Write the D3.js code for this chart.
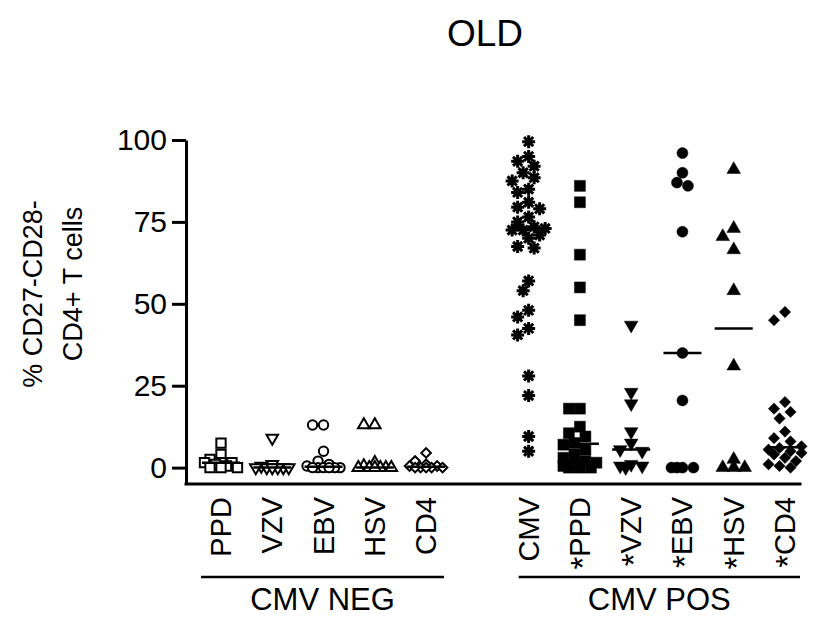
<!DOCTYPE html>
<html>
<head>
<meta charset="utf-8">
<script src="https://cdn.jsdelivr.net/npm/d3@7"></script>
<style>
  body { margin: 0; background: #fff; }
  text { font-family: "Liberation Sans", Arial, sans-serif; fill: #000; }
</style>
</head>
<body>
<script>
// categories
var negCats = ["PPD", "VZV", "EBV", "HSV", "CD4"];
var posCats = ["CMV", "PPD", "VZV", "EBV", "HSV", "CD4"];
var posLabels = ["CMV", "*PPD", "*VZV", "*EBV", "*HSV", "*CD4"];
var yTicks = [0, 25, 50, 75, 100];

// values (% CD27-CD28- CD4+ T cells)
var negPPD = [7.5, 4, 2.5, 1.5, 1.5, 1.5, 1, 0.5, 0, 0, 0];
var negVZV = [9, 1, 0.5, 0, 0, 0, 0, 0, 0];
var negEBV = [13, 13, 5, 2, 1, 0.5, 0, 0, 0, 0, 0, 0];
var negHSV = [13, 13, 1.5, 0.5, 0, 0, 0, 0, 0, 0];
var negCD4 = [4.5, 2, 1, 0.5, 0.5, 0, 0, 0, 0, 0];

var posCMV = [99.5, 95, 93.5, 92, 90, 88.5, 87.5, 85, 84, 81, 79.5, 79, 76.5, 75, 73.5, 73,
              72.5, 72.5, 71, 70, 67.5, 67, 57, 54, 48, 46, 42.5, 40.5, 28, 22, 9.5, 5];
var posPPD = [86, 81, 65, 55, 45, 18, 18, 12.5, 10.5, 9.5, 7.5, 7, 5.5, 4, 3, 2, 1.5, 1, 0.5, 0, 0, 0];
var posVZV = [43.5, 23, 19.5, 11, 7.5, 5.5, 5, 1, 0.5, 0.5, 0];
var posEBV = [96, 90, 87, 86, 72, 35, 20.5, 0, 0, 0, 0];
var posHSV = [91, 73, 70.5, 66.5, 54, 31, 2.5, 0, 0, 0];
var posCD4 = [47.5, 45, 20, 18, 17, 15, 11, 9, 8, 6.5, 6, 5.5, 5, 4.5, 4, 3, 2, 1, 0.5, 0];

var negSeries = [negPPD, negVZV, negEBV, negHSV, negCD4];
var posSeries = [posCMV, posPPD, posVZV, posEBV, posHSV, posCD4];

var width = 814, height = 618;

var svg = d3.select("body").append("svg")
  .attr("width", width)
  .attr("height", height);

// slots: neg columns 0..4, gap, pos columns 6..11
var x = d3.scaleLinear().domain([0, 11]).range([221, 785]);
var y = d3.scaleLinear().domain([-5, 100]).range([484, 140]);
var axisX = 186;

// groups with their marker style
var groups = [];
negCats.forEach(function(c, i) {
  groups.push({ slot: i, values: negSeries[i], shape: ["square", "down", "circle", "up", "diamond"][i], filled: false });
});
posCats.forEach(function(c, i) {
  groups.push({ slot: 6 + i, values: posSeries[i], shape: ["star", "square", "down", "circle", "up", "diamond"][i], filled: true });
});

function shapePath(shape, filled) {
  var s = filled ? 1 : 0.85;
  if (shape == "square") return d3.symbol(d3.symbolSquare, 120 * s * s)();
  if (shape == "circle") return d3.symbol(d3.symbolCircle, 95 * s * s)();
  if (shape == "up" || shape == "down") return d3.symbol(d3.symbolTriangle, 80 * s * s)();
  if (shape == "diamond") return d3.symbol(d3.symbolSquare, 64 * s * s)();
  // asterisk: 8 spokes
  var r = 6.5, p = "";
  for (var k = 0; k < 4; k++) {
    var a = k * Math.PI / 4;
    p += "M" + (-r * Math.cos(a)) + "," + (-r * Math.sin(a)) + "L" + (r * Math.cos(a)) + "," + (r * Math.sin(a));
  }
  return p;
}

function shapeRotate(shape) {
  if (shape == "down") return " rotate(180)";
  if (shape == "diamond") return " rotate(45)";
  return "";
}

// simple column-scatter layout, similar to how Prism spreads close points
function spread(values, cx) {
  var size = 11, maxOff = 19;
  var offs = [0];
  for (var k = 1; k * size / 2 <= maxOff; k++) { offs.push(-k * size / 2); offs.push(k * size / 2); }
  var placed = [];
  values.slice().sort(function(a, b) { return b - a; }).forEach(function(v) {
    var py = y(v), best = null, bestD = -1;
    for (var j = 0; j < offs.length; j++) {
      var px = cx + offs[j];
      var minD = Infinity;
      placed.forEach(function(q) {
        var d = Math.hypot(q.x - px, q.y - py);
        if (d < minD) minD = d;
      });
      if (minD >= size) { best = px; break; }
      if (minD > bestD) { bestD = minD; best = px; }
    }
    placed.push({ x: best, y: py, v: v });
  });
  return placed;
}

// points and medians
groups.forEach(function(g) {
  var cx = x(g.slot);
  var pts = spread(g.values, cx);
  var gg = svg.append("g");
  gg.selectAll("path.pt")
    .data(pts)
    .enter().append("path")
    .attr("class", "pt")
    .attr("d", shapePath(g.shape, g.filled))
    .attr("transform", function(d) { return "translate(" + d.x + "," + d.y + ")" + shapeRotate(g.shape); })
    .attr("fill", g.shape == "star" ? "none" : (g.filled ? "#000" : "#fff"))
    .attr("stroke", "#000")
    .attr("stroke-width", g.shape == "star" ? 3 : (g.filled ? 0.5 : 2));
  if (g.shape == "star") {
    gg.selectAll("circle.c")
      .data(pts)
      .enter().append("circle")
      .attr("cx", function(d) { return d.x; })
      .attr("cy", function(d) { return d.y; })
      .attr("r", 3.5)
      .attr("fill", "#000");
  }
  var med = d3.median(g.values);
  gg.append("line")
    .attr("x1", cx - 19).attr("x2", cx + 19)
    .attr("y1", y(med)).attr("y2", y(med))
    .attr("stroke", "#000")
    .attr("stroke-width", 2.5);
});

// y axis
var yAxis = svg.append("g")
  .attr("transform", "translate(" + axisX + ",0)")
  .call(d3.axisLeft(y).tickValues(yTicks).tickSize(14).tickSizeOuter(0).tickPadding(5));
yAxis.selectAll("text").style("font-size", "30px").style("font-family", "Liberation Sans, Arial, sans-serif");
yAxis.selectAll("line, path").attr("stroke", "#000").attr("stroke-width", 3);

// x axis line
svg.append("line")
  .attr("x1", axisX).attr("x2", x(11) + 15)
  .attr("y1", y(-5)).attr("y2", y(-5))
  .attr("stroke", "#000")
  .attr("stroke-width", 3)
  .attr("stroke-linecap", "square");

// category labels (rotated)
function catLabel(slot, label) {
  var t = svg.append("text")
    .attr("transform", "translate(" + (x(slot) + 10) + ",497) rotate(-90)")
    .attr("text-anchor", "end")
    .style("font-size", "29px");
  if (label[0] == "*") {
    t.append("tspan").attr("dy", 4).style("font-size", "33px").text("*");
    t.append("tspan").attr("dy", -4).text(label.slice(1));
  } else {
    t.text(label);
  }
}
negCats.forEach(function(c, i) { catLabel(i, c); });
posLabels.forEach(function(c, i) { catLabel(6 + i, c); });

// group brackets
var brackets = [
  { from: x(0) - 20, to: x(4) + 18, name: "CMV NEG" },
  { from: x(6) - 10, to: x(11) + 15, name: "CMV POS" }
];
brackets.forEach(function(b) {
  svg.append("line")
    .attr("x1", b.from).attr("x2", b.to)
    .attr("y1", 577).attr("y2", 577)
    .attr("stroke", "#000").attr("stroke-width", 2.5);
  svg.append("text")
    .attr("x", (b.from + b.to) / 2)
    .attr("y", 610)
    .attr("text-anchor", "middle")
    .style("font-size", "31px")
    .text(b.name);
});

// y label, two lines
svg.append("text")
  .attr("transform", "translate(42,294) rotate(-90)")
  .attr("text-anchor", "middle")
  .style("font-size", "27px")
  .text("% CD27-CD28-");
svg.append("text")
  .attr("transform", "translate(82,284) rotate(-90)")
  .attr("text-anchor", "middle")
  .style("font-size", "27px")
  .text("CD4+ T cells");

// title
svg.append("text")
  .attr("x", 485)
  .attr("y", 46)
  .attr("text-anchor", "middle")
  .style("font-size", "37px")
  .text("OLD");
</script>
</body>
</html>
